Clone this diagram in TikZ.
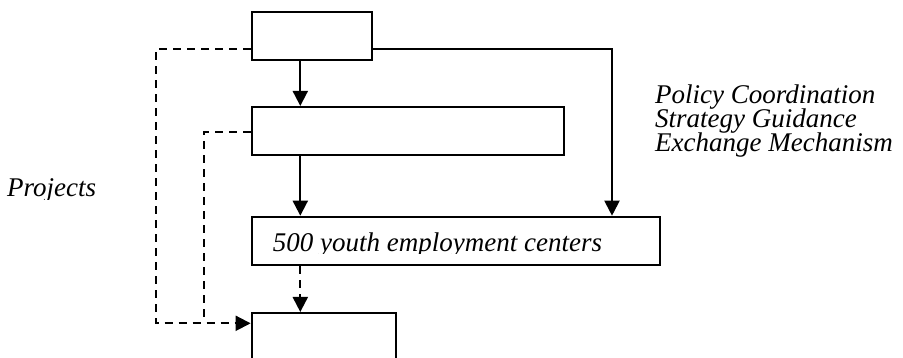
\documentclass[tikz,border=0pt]{standalone}
\usepackage{fontspec}
\setmainfont{Liberation Serif}
\usetikzlibrary{arrows.meta}
\newcommand\tightlines{\lineskiplimit=-50pt\relax\lineskip=0pt\relax}
\tikzset{
  box/.style={draw, line width=2pt, inner sep=0pt},
  arr/.style={line width=2pt, -{Triangle[length=15pt, width=15pt]}},
  dasharr/.style={arr, dash pattern=on 8pt off 6pt},
  dashline/.style={line width=2pt, dash pattern=on 8pt off 6pt},
  lbl/.style={anchor=base west, inner sep=0pt, font=\fontsize{27}{33}\selectfont\itshape}
}
\begin{document}
\begin{tikzpicture}[x=1pt, y=-1pt]
 \clip (0,0) rectangle (903,358);
 \fill[white] (0,0) rectangle (903,358);
%
 \node[box, minimum width=120.6pt, minimum height=48pt] (top) at (312,36.3) {};
 \node[box, minimum width=312.3pt, minimum height=47.7pt] (mid) at (407.8,130.8) {};
 \node[box, minimum width=408.6pt, minimum height=48.6pt] (centers) at (456,241) {};
 \node[box, minimum width=144.3pt, minimum height=60pt] (bottom) at (323.8,343) {};
%
 \coordinate (colL) at (300.3,0);
 \coordinate (colR) at (612,0);
 \coordinate (rowA) at (0,49.3);
 \coordinate (rowB) at (0,132.3);
 \coordinate (outerL) at (155.7,323.3);
 \coordinate (innerL) at (203.7,323.3);
%
 \draw[arr] (top.south -| colL) -- (mid.north -| colL);
 \draw[arr] (mid.south -| colL) -- (centers.north -| colL);
 \draw[dasharr] (centers.south -| colL) -- (bottom.north -| colL);
 \draw[arr] (top.east |- rowA) -| (colR |- centers.north);
%
 \draw[dasharr] (top.west |- rowA) -| (outerL) -- (bottom.west |- outerL);
 \draw[dashline] (mid.west |- rowB) -| (innerL);
%
 \begin{scope}
  \clip (260,220) rectangle (655,254);
  \node[lbl] (centersText) at (272.7,252) {500 youth employment centers};
 \end{scope}
 \begin{scope}
  \clip (0,160) rectangle (150,200);
  \node[lbl] (projects) at (7,197) {Projects};
 \end{scope}
%
 \node[lbl, anchor=north west, align=left,
   font=\fontsize{27}{23.8}\selectfont\itshape\tightlines]
   (policy) at (655,85) {Policy Coordination\\Strategy Guidance\\Exchange Mechanism};
\end{tikzpicture}
\end{document}
